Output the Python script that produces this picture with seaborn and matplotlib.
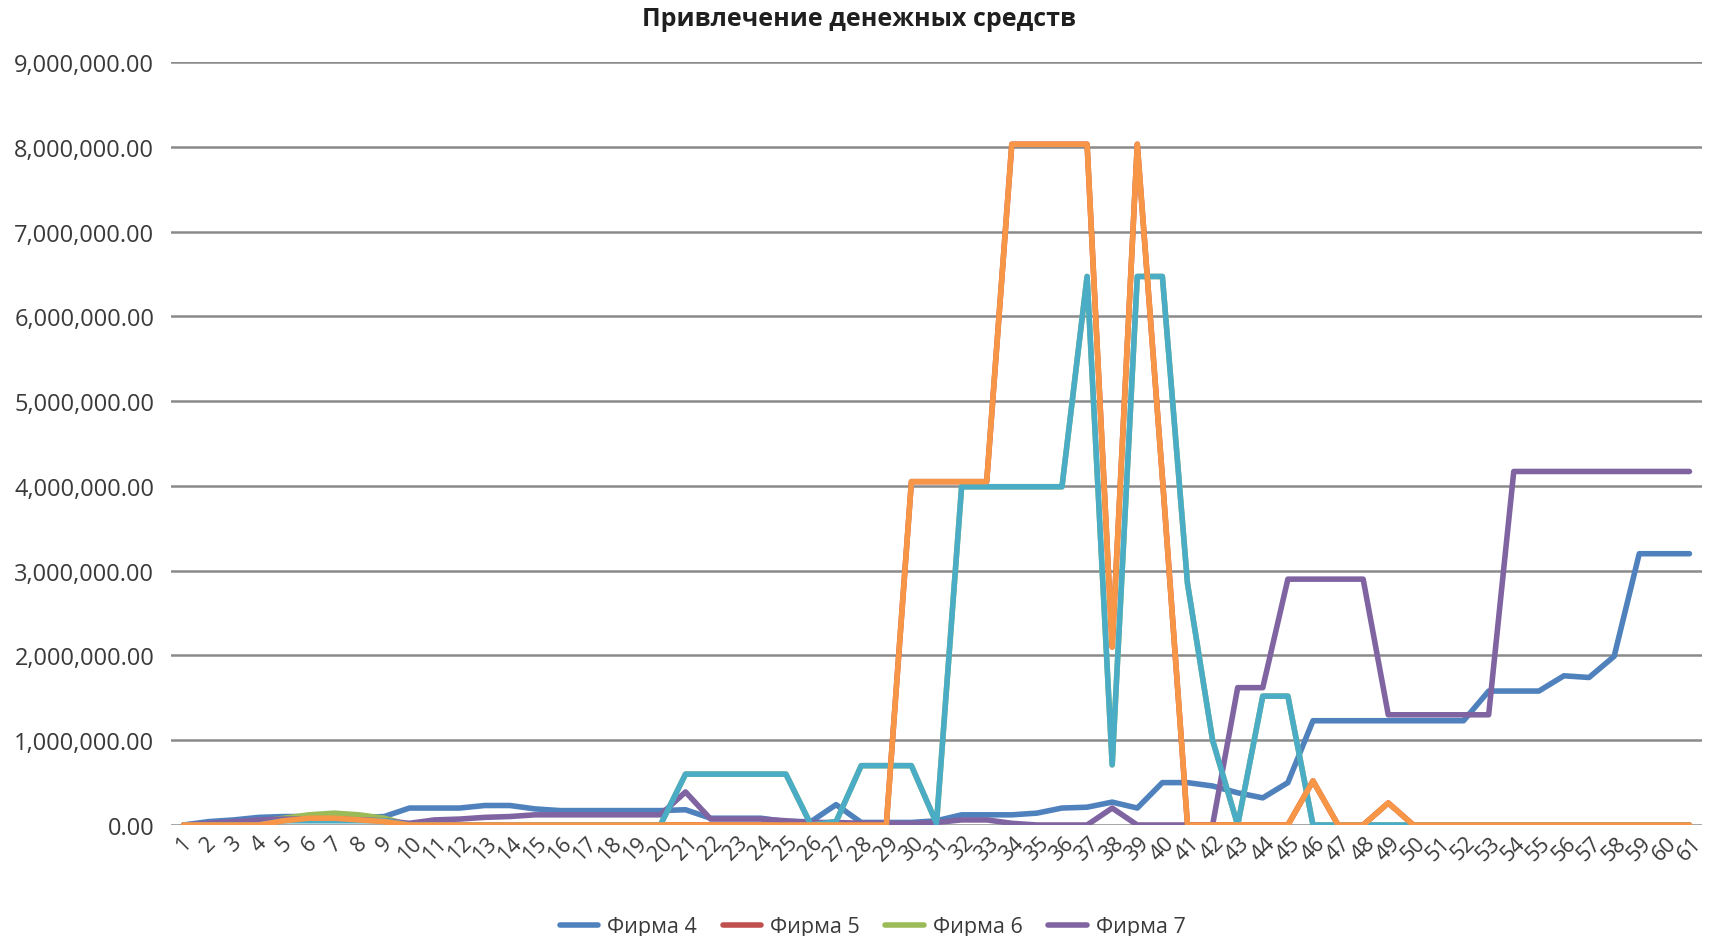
import matplotlib
matplotlib.use("Agg")
import matplotlib.pyplot as plt
import seaborn as sns
import pandas as pd
from matplotlib.ticker import FuncFormatter, MultipleLocator
from matplotlib.lines import Line2D

# ---------------- data (values in millions) ----------------
periods = list(range(1, 62))

firm4 = [0.00, 0.04, 0.06, 0.09, 0.10, 0.10, 0.10, 0.09, 0.10, 0.20,
         0.20, 0.20, 0.23, 0.23, 0.19, 0.17, 0.17, 0.17, 0.17, 0.17,
         0.18, 0.08, 0.08, 0.08, 0.04, 0.04, 0.24, 0.03, 0.03, 0.03,
         0.05, 0.12, 0.12, 0.12, 0.14, 0.20, 0.21, 0.27, 0.20, 0.50,
         0.50, 0.46, 0.38, 0.32, 0.50, 1.23, 1.23, 1.23, 1.23, 1.23,
         1.23, 1.23, 1.58, 1.58, 1.58, 1.76, 1.74, 1.99, 3.20, 3.20,
         3.20]

firm5 = [0.00, 0.00, 0.00, 0.02, 0.06, 0.09, 0.10, 0.08, 0.05, 0.00,
         0.00, 0.00, 0.00, 0.00, 0.00, 0.00, 0.00, 0.00, 0.00, 0.00,
         0.00, 0.00, 0.00, 0.00, 0.00, 0.00, 0.00, 0.00, 0.00, 4.05,
         4.05, 4.05, 4.05, 8.03, 8.03, 8.03, 8.03, 2.10, 8.03, 4.10,
         0.00, 0.00, 0.00, 0.00, 0.00, 0.52, 0.00, 0.00, 0.26, 0.00,
         0.00, 0.00, 0.00, 0.00, 0.00, 0.00, 0.00, 0.00, 0.00, 0.00,
         0.00]

firm6 = [0.00, 0.00, 0.02, 0.04, 0.08, 0.12, 0.14, 0.12, 0.08, 0.00,
         0.00, 0.00, 0.00, 0.00, 0.00, 0.00, 0.00, 0.00, 0.00, 0.00,
         0.60, 0.60, 0.60, 0.60, 0.60, 0.00, 0.04, 0.70, 0.70, 0.70,
         0.02, 3.99, 3.99, 3.99, 3.99, 3.99, 6.47, 0.71, 6.47, 6.47,
         2.85, 1.00, 0.00, 1.52, 1.52, 0.00, 0.00, 0.00, 0.00, 0.00,
         0.00, 0.00, 0.00, 0.00, 0.00, 0.00, 0.00, 0.00, 0.00, 0.00,
         0.00]

firm7 = [0.00, 0.02, 0.04, 0.06, 0.07, 0.07, 0.07, 0.06, 0.05, 0.02,
         0.06, 0.07, 0.09, 0.10, 0.12, 0.12, 0.12, 0.12, 0.12, 0.12,
         0.39, 0.07, 0.07, 0.07, 0.05, 0.03, 0.03, 0.02, 0.02, 0.02,
         0.03, 0.06, 0.06, 0.02, 0.00, 0.00, 0.00, 0.20, 0.00, 0.00,
         0.00, 0.00, 1.62, 1.62, 2.90, 2.90, 2.90, 2.90, 1.30, 1.30,
         1.30, 1.30, 1.30, 4.17, 4.17, 4.17, 4.17, 4.17, 4.17, 4.17,
         4.17]

firm8 = [0.00, 0.00, 0.00, 0.00, 0.05, 0.05, 0.05, 0.05, 0.05, 0.00,
         0.00, 0.00, 0.00, 0.00, 0.00, 0.00, 0.00, 0.00, 0.00, 0.00,
         0.60, 0.60, 0.60, 0.60, 0.60, 0.00, 0.04, 0.70, 0.70, 0.70,
         0.02, 3.99, 3.99, 3.99, 3.99, 3.99, 6.47, 0.71, 6.47, 6.47,
         2.85, 1.00, 0.00, 1.52, 1.52, 0.00, 0.00, 0.00, 0.00, 0.00,
         0.00, 0.00, 0.00, 0.00, 0.00, 0.00, 0.00, 0.00, 0.00, 0.00,
         0.00]

firm9 = [0.00, 0.00, 0.00, 0.00, 0.05, 0.08, 0.08, 0.06, 0.04, 0.00,
         0.00, 0.00, 0.00, 0.00, 0.00, 0.00, 0.00, 0.00, 0.00, 0.00,
         0.00, 0.00, 0.00, 0.00, 0.00, 0.00, 0.00, 0.00, 0.00, 4.05,
         4.05, 4.05, 4.05, 8.03, 8.03, 8.03, 8.03, 2.10, 8.03, 4.10,
         0.00, 0.00, 0.00, 0.00, 0.00, 0.52, 0.00, 0.00, 0.26, 0.00,
         0.00, 0.00, 0.00, 0.00, 0.00, 0.00, 0.00, 0.00, 0.00, 0.00,
         0.00]

series_names = ["Фирма 4", "Фирма 5", "Фирма 6", "Фирма 7", "Фирма 8", "Фирма 9"]
series_values = [firm4, firm5, firm6, firm7, firm8, firm9]
series_colors = ["#4F81BD", "#C0504D", "#9BBB59", "#8064A2", "#4BACC6", "#F79646"]
legend_names = series_names[:4]
title = "Привлечение денежных средств"

# ---------------- figure ----------------
sns.set_theme(style="white")
plt.rcParams["font.family"] = ["Open Sans", "DejaVu Sans"]

W, H = 1711, 937
fig = plt.figure(figsize=(W / 100, H / 100), dpi=100)
left, right, top, bottom = 171, 1702, 63, 826
ax = fig.add_axes([left / W, 1 - bottom / H, (right - left) / W, (bottom - top) / H])

rows = []
for name, vals in zip(series_names, series_values):
    for p, v in zip(periods, vals):
        rows.append({"period": p, "value": v * 1e6, "firm": name})
df = pd.DataFrame(rows)

sns.lineplot(data=df, x="period", y="value", hue="firm", hue_order=series_names,
             palette=dict(zip(series_names, series_colors)), linewidth=4.0,
             estimator=None, sort=False, legend=False, ax=ax)
for ln in ax.get_lines():
    ln.set_solid_joinstyle("round")
    ln.set_solid_capstyle("round")

ax.set_xlim(0.5, 61.5)
ax.set_ylim(0, 9e6)
ax.yaxis.set_major_locator(MultipleLocator(1e6))
ax.yaxis.set_major_formatter(FuncFormatter(lambda v, p: f"{v:,.2f}"))
ax.set_xticks(periods)
ax.set_xticklabels([str(p) for p in periods], rotation=45, ha="center", va="top")
ax.tick_params(axis="y", length=0, pad=12, labelsize=17, labelcolor="#3a3a3a")
ax.tick_params(axis="x", length=0, pad=5, labelsize=15.5, labelcolor="#3a3a3a")
ax.set_xlabel("")
ax.set_ylabel("")
ax.grid(axis="y", color="#8a8a8a", linewidth=1.8)
ax.grid(axis="x", visible=False)
ax.set_axisbelow(True)
for s in ax.spines.values():
    s.set_visible(False)

fig.text(0.502, 1 - 20 / H, title, ha="center", va="center",
         fontsize=18, fontweight="bold", color="#1f1f1f")

handles = [Line2D([0], [0], color=c, linewidth=4.0) for c in series_colors[:4]]
fig.legend(handles, legend_names, loc="lower center", bbox_to_anchor=(0.51, -0.022),
           ncol=4, frameon=False, fontsize=15.5, handlelength=1.8,
           handletextpad=0.4, columnspacing=1.2, labelcolor="#3a3a3a")

fig.savefig("out.png", dpi=100, facecolor="white")
